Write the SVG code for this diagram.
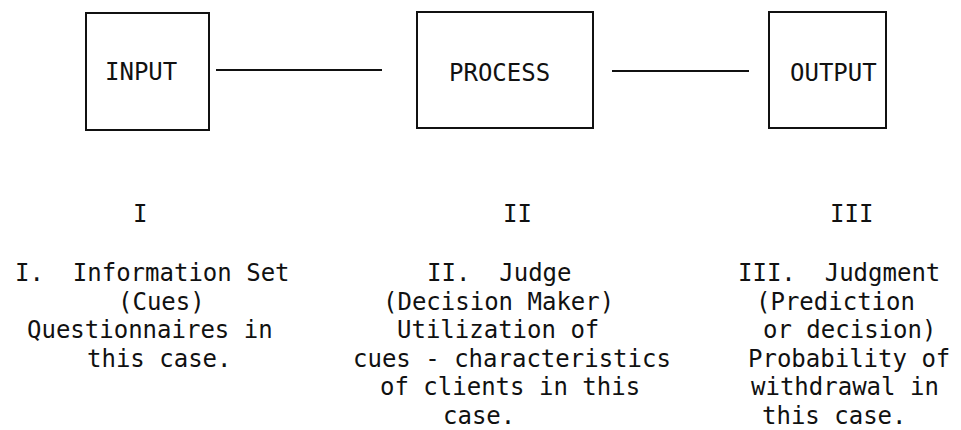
<svg xmlns="http://www.w3.org/2000/svg" width="961" height="430" viewBox="0 0 961 430">
  <style>
    .box { fill: none; stroke: #111; stroke-width: 2; }
    .link { stroke: #111; stroke-width: 2.2; }
    text { font-family: "DejaVu Sans Mono", "Liberation Mono", monospace; font-size: 24px; fill: #111; white-space: pre; }
  </style>
  <rect width="961" height="430" fill="#fff"/>

  <!-- connectors between the three stages -->
  <g id="connectors">
    <line class="link" x1="216" y1="70" x2="382" y2="70"/>
    <line class="link" x1="612" y1="71" x2="749" y2="71"/>
  </g>

  <g id="input">
    <rect class="box" x="86" y="13" width="123" height="117"/>
    <text x="105" y="80">INPUT</text>
  </g>

  <g id="process">
    <rect class="box" x="417" y="12" width="176" height="116"/>
    <text x="449" y="81">PROCESS</text>
  </g>

  <g id="output">
    <rect class="box" x="769" y="12" width="117" height="116"/>
    <text x="790" y="81">OUTPUT</text>
  </g>

  <!-- stage numerals -->
  <g id="numerals">
    <text x="133" y="222">I</text>
    <text x="503" y="222">II</text>
    <text x="830" y="222">III</text>
  </g>

  <!-- stage descriptions -->
  <g id="desc-input">
    <text x="15" y="281">I.  Information Set</text>
    <text x="118" y="309.5">(Cues)</text>
    <text x="27" y="338">Questionnaires in</text>
    <text x="87" y="366.5">this case.</text>
  </g>

  <g id="desc-process">
    <text x="427" y="281">II.  Judge</text>
    <text x="383" y="309.5">(Decision Maker)</text>
    <text x="397" y="338">Utilization of</text>
    <text x="353" y="366.5">cues - characteristics</text>
    <text x="380" y="395">of clients in this</text>
    <text x="443" y="423.5">case.</text>
  </g>

  <g id="desc-output">
    <text x="738" y="281">III.  Judgment</text>
    <text x="756" y="309.5">(Prediction</text>
    <text x="763" y="338">or decision)</text>
    <text x="748" y="366.5">Probability of</text>
    <text x="751" y="395">withdrawal in</text>
    <text x="762" y="423.5">this case.</text>
  </g>
</svg>
